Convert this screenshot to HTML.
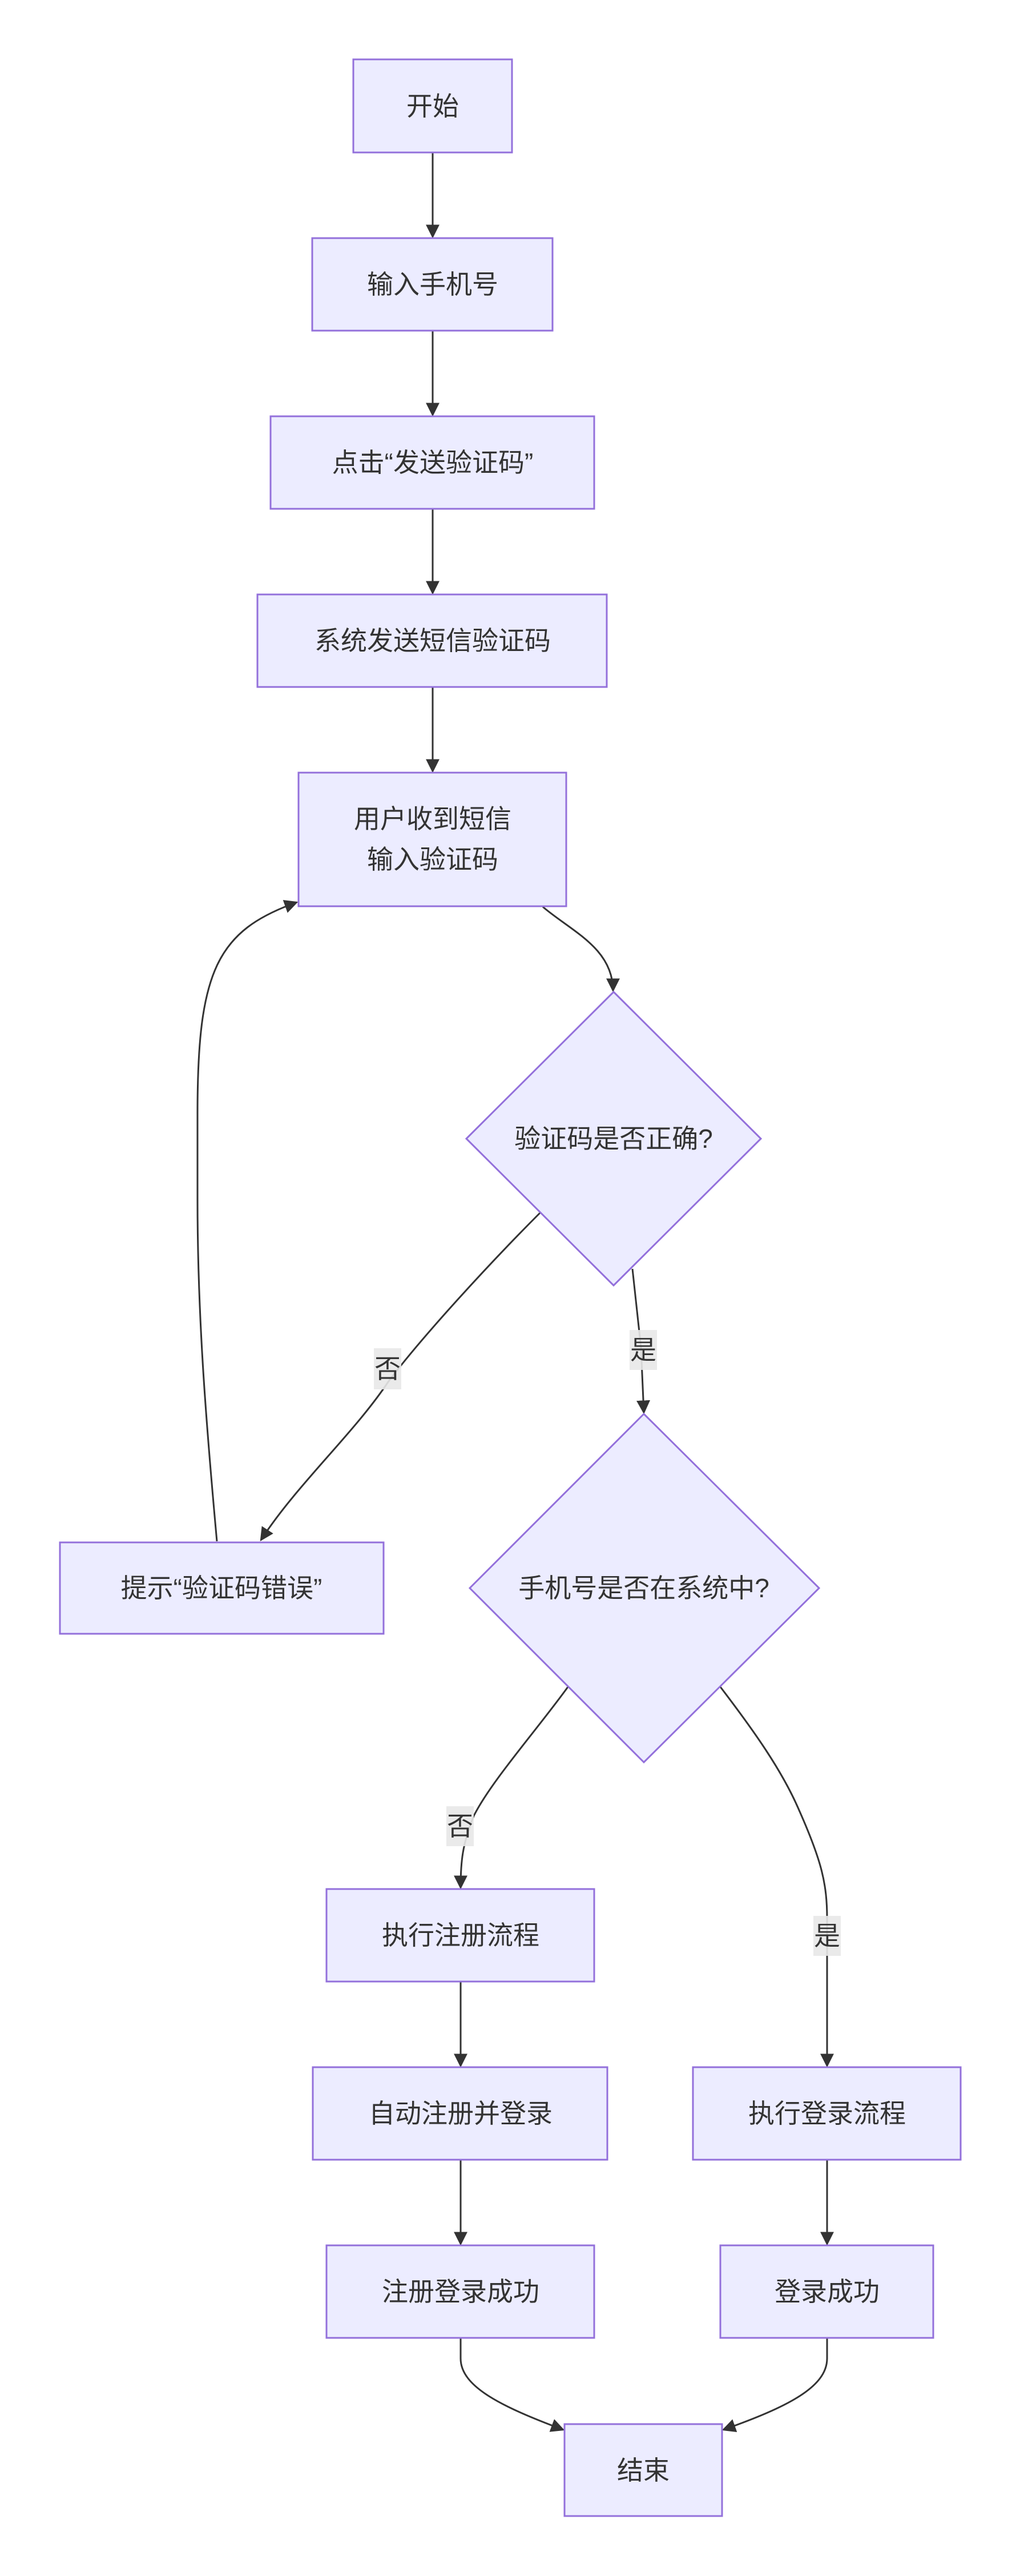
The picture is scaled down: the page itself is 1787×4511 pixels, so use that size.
<!DOCTYPE html>
<html><head><meta charset="utf-8"><style>
html,body{margin:0;padding:0;background:#fff;}
svg{display:block}
text{font-family:"Liberation Sans","Noto Sans CJK SC",sans-serif;font-size:46px;fill:#333;text-anchor:middle;dominant-baseline:central;}
.n{fill:#ECECFF;stroke:#9370DB;stroke-width:3;}
.e{fill:none;stroke:#333;stroke-width:3;}
.lb{fill:#e8e8e8;opacity:0.9}
</style></head><body>
<svg width="1787" height="4511" viewBox="0 0 1787 4511" xmlns="http://www.w3.org/2000/svg">
<defs>
<marker id="a" viewBox="0 0 10 10" refX="9" refY="5" markerUnits="userSpaceOnUse" markerWidth="24" markerHeight="24" orient="auto">
<path d="M0,0 L10,5 L0,10 z" fill="#333"/></marker>
</defs>
<!-- edges -->
<path class="e" d="M758,268 L758,415" marker-end="url(#a)"/>
<path class="e" d="M758,579 L758,727" marker-end="url(#a)"/>
<path class="e" d="M758,891 L758,1039" marker-end="url(#a)"/>
<path class="e" d="M758,1203 L758,1351" marker-end="url(#a)"/>
<path class="e" d="M951,1588 C1000,1630 1074,1660 1074,1735" marker-end="url(#a)"/>
<path class="e" d="M946,2124 C860,2210 740,2340 680,2420 C620,2510 520,2600 457,2697" marker-end="url(#a)"/>
<path class="e" d="M1108,2222 L1123,2360 L1128,2474" marker-end="url(#a)"/>
<path class="e" d="M380,2699 C360,2480 346,2300 346,2100 L346,1950 C346,1700 380,1630 520,1580" marker-end="url(#a)"/>
<path class="e" d="M995,2954 C940,3030 860,3120 830,3180 C810,3230 807,3260 807,3306" marker-end="url(#a)"/>
<path class="e" d="M1262,2954 C1320,3030 1370,3100 1400,3170 C1440,3260 1449,3300 1449,3360 L1449,3618" marker-end="url(#a)"/>
<path class="e" d="M807,3470 L807,3618" marker-end="url(#a)"/>
<path class="e" d="M807,3782 L807,3930" marker-end="url(#a)"/>
<path class="e" d="M1449,3782 L1449,3930" marker-end="url(#a)"/>
<path class="e" d="M807,4094 L807,4130 C807,4180 880,4215 987,4255" marker-end="url(#a)"/>
<path class="e" d="M1449,4094 L1449,4130 C1449,4180 1380,4215 1267,4255" marker-end="url(#a)"/>
<!-- edge labels -->
<rect class="lb" x="655" y="2361" width="48" height="72"/><text x="679" y="2397">否</text>
<rect class="lb" x="1103" y="2329" width="48" height="70"/><text x="1127" y="2364">是</text>
<rect class="lb" x="782" y="3163" width="48" height="70"/><text x="806" y="3198">否</text>
<rect class="lb" x="1425" y="3355" width="48" height="70"/><text x="1449" y="3390">是</text>
<!-- nodes -->
<rect class="n" x="619" y="104" width="278" height="163"/><text x="758" y="186">开始</text>
<rect class="n" x="547" y="417" width="421" height="162"/><text x="758" y="498">输入手机号</text>
<rect class="n" x="474" y="729" width="567" height="162"/><text x="758" y="810">点击“发送验证码”</text>
<rect class="n" x="451" y="1041" width="612" height="162"/><text x="758" y="1122">系统发送短信验证码</text>
<rect class="n" x="523" y="1353" width="469" height="234"/><text x="758" y="1434">用户收到短信</text><text x="758" y="1505">输入验证码</text>
<polygon class="n" points="1075,1737 1333,1994 1075,2251 817,1994"/><text x="1075" y="1994">验证码是否正确?</text>
<rect class="n" x="105" y="2701" width="567" height="160"/><text x="388" y="2781">提示“验证码错误”</text>
<polygon class="n" points="1128,2476 1435,2781 1128,3086 823,2781"/><text x="1128" y="2781">手机号是否在系统中?</text>
<rect class="n" x="572" y="3308" width="469" height="162"/><text x="807" y="3389">执行注册流程</text>
<rect class="n" x="548" y="3620" width="516" height="162"/><text x="807" y="3701">自动注册并登录</text>
<rect class="n" x="572" y="3932" width="469" height="162"/><text x="807" y="4013">注册登录成功</text>
<rect class="n" x="1214" y="3620" width="469" height="162"/><text x="1449" y="3701">执行登录流程</text>
<rect class="n" x="1262" y="3932" width="373" height="162"/><text x="1449" y="4013">登录成功</text>
<rect class="n" x="989" y="4245" width="276" height="161"/><text x="1127" y="4326">结束</text>
</svg>
</body></html>
